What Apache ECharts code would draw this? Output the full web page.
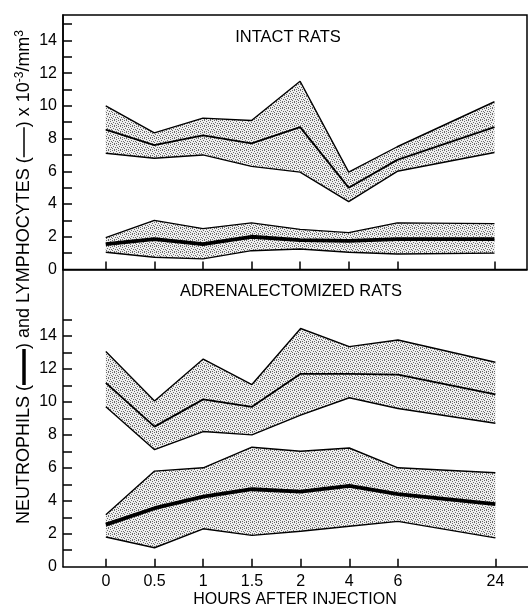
<!DOCTYPE html>
<html><head><meta charset="utf-8">
<script src="https://cdn.jsdelivr.net/npm/echarts@6/dist/echarts.min.js"></script>
<style>html,body{margin:0;padding:0;background:#fff}#c{width:528px;height:609px}</style>
</head><body><div id="c"></div>
<script>
// Hour labels and their slot on the (broken) time axis; slot 7 (12 h) is unlabeled
const hours = ['0','0.5','1','1.5','2','4','6','24'];
const slots = [0,1,2,3,4,5,6,8];

// INTACT RATS
const intactLymphUpper = [10.0, 8.35, 9.25, 9.1, 11.5, 5.95, 7.5, 10.25];
const intactLymphMean  = [8.55, 7.6, 8.2, 7.7, 8.7, 5.0, 6.7, 8.7];
const intactLymphLower = [7.1, 6.8, 7.0, 6.3, 5.95, 4.15, 6.0, 7.15];
const intactNeutUpper  = [1.95, 3.0, 2.5, 2.85, 2.45, 2.25, 2.85, 2.8];
const intactNeutMean   = [1.55, 1.85, 1.55, 2.0, 1.8, 1.75, 1.85, 1.85];
const intactNeutLower  = [1.05, 0.75, 0.65, 1.15, 1.25, 1.05, 0.95, 1.0];

// ADRENALECTOMIZED RATS
const adxLymphUpper = [13.05, 10.05, 12.6, 11.05, 14.45, 13.35, 13.75, 12.4];
const adxLymphMean  = [11.15, 8.5, 10.15, 9.7, 11.7, 11.7, 11.65, 10.45];
const adxLymphLower = [9.7, 7.1, 8.2, 8.0, 9.2, 10.25, 9.6, 8.7];
const adxNeutUpper  = [3.15, 5.8, 6.0, 7.25, 7.0, 7.2, 6.0, 5.7];
const adxNeutMean   = [2.55, 3.55, 4.25, 4.7, 4.55, 4.9, 4.4, 3.8];
const adxNeutLower  = [1.8, 1.15, 2.3, 1.9, 2.15, 2.45, 2.75, 1.75];

const yTicks = [1,2,3,4,5,6,7,8,9,10,11,12,13,14,15];
const yLabels = [0,2,4,6,8,10,12,14];

const FONT = '"Liberation Sans", Arial, sans-serif';

function stipple(){
  const c = document.createElement('canvas'); c.width = 6; c.height = 6;
  const g = c.getContext('2d');
  g.fillStyle = '#efefef'; g.fillRect(0,0,6,6);
  g.fillStyle = '#6a6a6a';
  [[0,0],[4,0],[2,1],[5,2],[1,3],[3,3],[0,5],[4,4],[2,5]].forEach(p => g.fillRect(p[0], p[1], 1, 1));
  return c;
}
const pattern = {image: stipple(), repeat: 'repeat'};

function band(gi, lower, upper, mean, meanW){
  const base = {xAxisIndex:gi, yAxisIndex:gi, animation:false, silent:true};
  const lineS = (vals, w, z) => Object.assign({}, base, {type:'line', symbol:'none', z:z,
      data: slots.map((s,i)=>[s, vals[i]]), lineStyle:{color:'#000', width:w}});
  return [
    Object.assign({}, base, {type:'custom', z:1,
      data: slots.map((s,i)=>[s, lower[i], upper[i]]),
      encode:{x:0, y:[1,2]},
      renderItem: function(params, api){
        if (params.dataIndex !== 0) return null;
        const pts = [];
        slots.forEach((s,i)=>pts.push(api.coord([s, upper[i]])));
        for (let i = slots.length-1; i >= 0; i--) pts.push(api.coord([slots[i], lower[i]]));
        return {type:'polygon', shape:{points:pts}, style:{fill:pattern, stroke:null}};
      }}),
    lineS(upper, 1.4, 3),
    lineS(lower, 1.4, 3),
    lineS(mean, meanW, 4)
  ];
}

function xAxis(gi, showLabels){
  return {type:'value', gridIndex:gi, min:-0.88, max:8.67, z:10,
    axisLine:{show:true, onZero:false, lineStyle:{color:'#000', width:1.5}},
    axisTick:{show:true, inside:true, length:8, customValues:slots, lineStyle:{color:'#000', width:1.5}},
    axisLabel:{show:showLabels, customValues:slots, margin:7, color:'#000', fontSize:16, fontFamily:FONT,
      formatter: v => hours[slots.indexOf(v)] || ''},
    splitLine:{show:false}};
}
function yAxis(gi, max){
  return {type:'value', gridIndex:gi, min:0, max:max, z:10,
    axisLine:{show:true, onZero:false, lineStyle:{color:'#000', width:1.5}},
    axisTick:{show:true, inside:true, length:9, customValues:yTicks, lineStyle:{color:'#000', width:1.5}},
    axisLabel:{show:true, customValues:yLabels, margin:6, color:'#000', fontSize:16, fontFamily:FONT},
    splitLine:{show:false}};
}

const chart = echarts.init(document.getElementById('c'), null, {renderer:'canvas'});
chart.setOption({
  animation:false,
  backgroundColor:'#fff',
  grid:[
    {left:63, top:15, width:464, height:254.5, show:true, borderColor:'#000', borderWidth:1.5, backgroundColor:'transparent'},
    {left:63, top:270, width:465, height:296.7}
  ],
  xAxis:[xAxis(0,false), xAxis(1,true)],
  yAxis:[yAxis(0,15.55), yAxis(1,18)],
  series:[].concat(
    band(0,intactLymphLower,intactLymphUpper,intactLymphMean,1.8),
    band(0,intactNeutLower,intactNeutUpper,intactNeutMean,3.8),
    band(1,adxLymphLower,adxLymphUpper,adxLymphMean,1.8),
    band(1,adxNeutLower,adxNeutUpper,adxNeutMean,3.8)
  ),
  graphic:[
    {type:'text', x:288, y:37, style:{text:'INTACT RATS', align:'center', verticalAlign:'middle', fontSize:16.5, fontFamily:FONT, fill:'#000'}},
    {type:'text', x:291, y:291, style:{text:'ADRENALECTOMIZED RATS', align:'center', verticalAlign:'middle', fontSize:16.5, fontFamily:FONT, fill:'#000'}},
    {type:'text', x:295, y:600, style:{text:'HOURS AFTER INJECTION', align:'center', verticalAlign:'middle', fontSize:16, fontFamily:FONT, fill:'#000'}},
    {type:'text', x:24, y:277, rotation:Math.PI/2, style:{
      text:'{t|NEUTROPHILS (}{k| }{t|) and LYMPHOCYTES (}{n| }{t|) x 10}{s|-3}{t|/mm}{s|3}',
      align:'center', verticalAlign:'middle', fill:'#000',
      rich:{
        t:{fontSize:18, fontFamily:FONT, fill:'#000', lineHeight:20, verticalAlign:'middle'},
        k:{width:36, height:3.5, backgroundColor:'#000', verticalAlign:'middle', fontSize:2},
        n:{width:30, height:1.5, backgroundColor:'#000', verticalAlign:'middle', fontSize:2},
        s:{fontSize:12, fontFamily:FONT, fill:'#000', verticalAlign:'top', lineHeight:12}
      }}}
  ]
});
</script></body></html>
